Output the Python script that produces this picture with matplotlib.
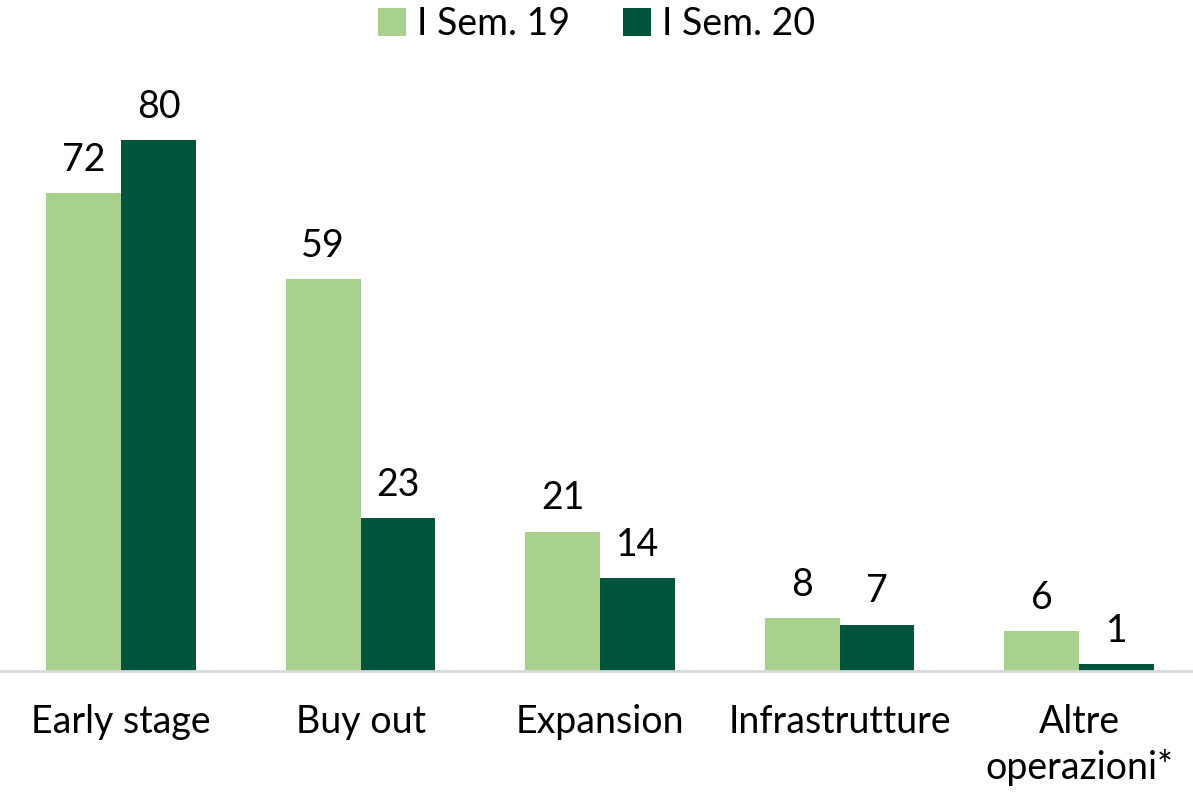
import matplotlib.pyplot as plt
import numpy as np

plt.rcParams['font.family'] = ['Lato', 'DejaVu Sans']

categories = ["Early stage", "Buy out", "Expansion", "Infrastrutture", "Altre\noperazioni*"]
sem19 = [72, 59, 21, 8, 6]
sem20 = [80, 23, 14, 7, 1]
series_names = ["I Sem. 19", "I Sem. 20"]

light = "#A9D18E"
dark = "#00543C"

fig = plt.figure(figsize=(11.93, 7.93), dpi=100)
ax = fig.add_axes([0, 0.1538, 1, 0.77])

x = np.arange(len(categories))
w = 0.313
b1 = ax.bar(x - w / 2, sem19, w, color=light, label=series_names[0])
b2 = ax.bar(x + w / 2, sem20, w, color=dark, label=series_names[1])

for bars in (b1, b2):
    for rect in bars:
        h = rect.get_height()
        ax.annotate(f"{h:g}", (rect.get_x() + rect.get_width() / 2, h),
                    xytext=(0, 11), textcoords="offset points",
                    ha="center", va="bottom", fontsize=27)

ax.set_xlim(-121 / 239.5, 4 + 114 / 239.5)
ax.set_ylim(0, 92)
ax.set_xticks(x)
ax.set_xticklabels(categories, fontsize=27, linespacing=1.3)
ax.tick_params(axis="x", length=0, pad=24)
ax.set_yticks([])
for s in ["top", "right", "left"]:
    ax.spines[s].set_visible(False)
ax.spines["bottom"].set_color("#D9D9D9")
ax.spines["bottom"].set_linewidth(2)

fig.legend(loc="upper center", bbox_to_anchor=(0.5, 1.035), ncol=2, frameon=False,
           fontsize=27, handlelength=0.75, handleheight=0.75, handletextpad=0.3,
           columnspacing=1.4)

fig.savefig("out.png", dpi=100)
